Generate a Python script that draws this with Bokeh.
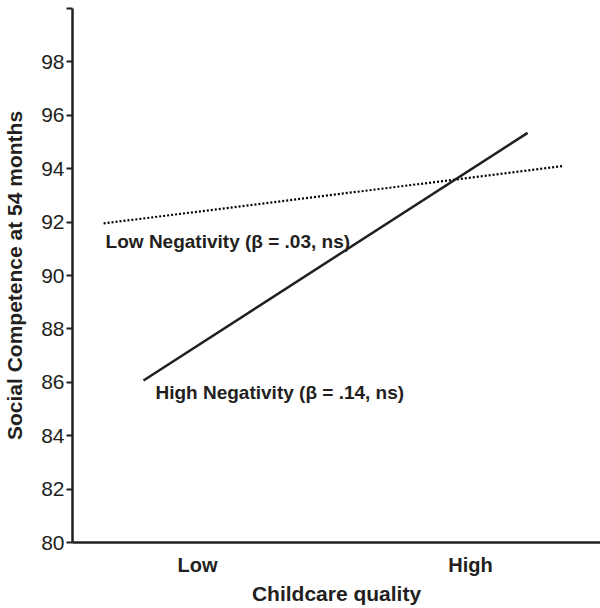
from bokeh.plotting import figure
from bokeh.models import FixedTicker, Label
from bokeh.embed import file_html
from bokeh.resources import INLINE

# Data
quality_ticks = [0, 1]
quality_labels = ["Low", "High"]
y_ticks = [80, 82, 84, 86, 88, 90, 92, 94, 96, 98, 100]

low_neg_x = [-0.344, 1.34]
low_neg_y = [91.95, 94.1]
high_neg_x = [-0.198, 1.209]
high_neg_y = [86.07, 95.34]

INK = "#231f20"
FONT = "Liberation Sans"

p = figure(frame_width=528, frame_height=534, x_range=(-0.458, 1.476), y_range=(80, 100),
           output_backend="svg", toolbar_location=None,
           min_border_left=0, min_border_right=0, min_border_top=8, min_border_bottom=0)
p.outline_line_color = None
p.grid.grid_line_color = None
p.background_fill_color = "white"
p.border_fill_color = "white"

p.line(low_neg_x, low_neg_y, line_color="#000000", line_width=2.2, line_dash="2 2")
p.line(high_neg_x, high_neg_y, line_color=INK, line_width=2.5)

p.add_layout(Label(x=low_neg_x[0], y=low_neg_y[0], x_offset=2, y_offset=-18,
                   text="Low Negativity (β = .03, ns)", text_font=FONT, text_font_size="19px",
                   text_font_style="bold", text_color=INK, text_baseline="middle", text_align="left"))
p.add_layout(Label(x=high_neg_x[0], y=high_neg_y[0], x_offset=12, y_offset=-12,
                   text="High Negativity (β = .14, ns)", text_font=FONT, text_font_size="19px",
                   text_font_style="bold", text_color=INK, text_baseline="middle", text_align="left"))

xa = p.xaxis[0]
xa.ticker = FixedTicker(ticks=quality_ticks)
xa.major_label_overrides = {t: l for t, l in zip(quality_ticks, quality_labels)}
xa.major_tick_line_color = None
xa.minor_tick_line_color = None
xa.axis_line_color = INK
xa.axis_line_width = 2.5
xa.major_label_text_font = FONT
xa.major_label_text_font_style = "bold"
xa.major_label_text_font_size = "20px"
xa.major_label_text_color = INK
xa.major_label_standoff = 5
xa.axis_label = "Childcare quality"
xa.axis_label_text_font = FONT
xa.axis_label_text_font_style = "bold"
xa.axis_label_text_font_size = "21px"
xa.axis_label_text_color = INK
xa.axis_label_standoff = 3

ya = p.yaxis[0]
ya.ticker = FixedTicker(ticks=y_ticks)
ya.major_label_overrides = {100: ""}
ya.minor_tick_line_color = None
ya.axis_line_color = INK
ya.axis_line_width = 2.5
ya.major_tick_line_color = INK
ya.major_tick_line_width = 2
ya.major_tick_in = 0
ya.major_tick_out = 6
ya.major_label_text_font = FONT
ya.major_label_text_font_size = "21px"
ya.major_label_text_color = INK
ya.major_label_standoff = 2
ya.axis_label = "Social Competence at 54 months"
ya.axis_label_text_font = FONT
ya.axis_label_text_font_style = "bold"
ya.axis_label_text_font_size = "21px"
ya.axis_label_text_color = INK
ya.axis_label_standoff = 12

open("out.html", "w").write(file_html(p, INLINE))
